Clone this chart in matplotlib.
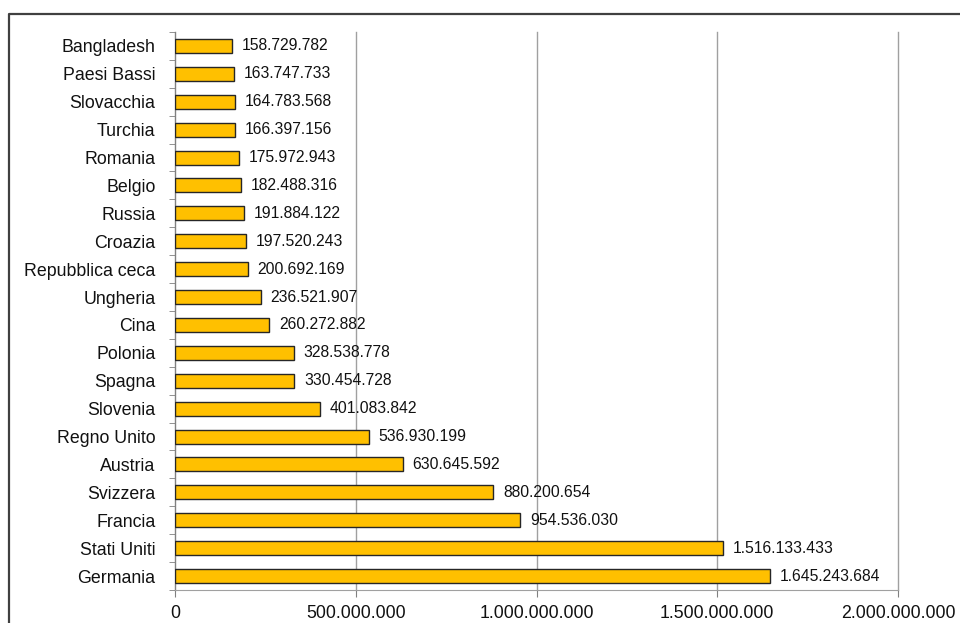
import matplotlib
matplotlib.use("Agg")
import matplotlib.pyplot as plt
from matplotlib.lines import Line2D
import numpy as np

plt.rcParams['font.family'] = ['Liberation Sans', 'DejaVu Sans']

countries = ["Bangladesh", "Paesi Bassi", "Slovacchia", "Turchia", "Romania",
             "Belgio", "Russia", "Croazia", "Repubblica ceca", "Ungheria",
             "Cina", "Polonia", "Spagna", "Slovenia", "Regno Unito",
             "Austria", "Svizzera", "Francia", "Stati Uniti", "Germania"]
values = [158729782, 163747733, 164783568, 166397156, 175972943,
          182488316, 191884122, 197520243, 200692169, 236521907,
          260272882, 328538778, 330454728, 401083842, 536930199,
          630645592, 880200654, 954536030, 1516133433, 1645243684]
xticks = [0, 500000000, 1000000000, 1500000000, 2000000000]

def fmt(v):
    return f"{v:,}".replace(",", ".")

fig = plt.figure(figsize=(9.6, 6.23), dpi=100)
ax = fig.add_axes([175/960, 1 - 590/623, (898-175)/960, (590-32)/623])

y = np.arange(len(countries))
ax.barh(y, values, height=0.5, color="#FFC000", edgecolor="#262626", linewidth=1.0, zorder=3)
for yi, v in zip(y, values):
    ax.annotate(fmt(v), (v, yi), xytext=(7, 0), textcoords="offset points",
                va="center", ha="left", fontsize=11.3, color="#111111")

ax.set_ylim(len(countries) - 0.5, -0.5)
ax.set_xlim(0, 2000000000)
ax.set_yticks(y)
ax.set_yticklabels(countries, fontsize=12.8, color="#111111")
ax.set_yticks(np.arange(-0.5, len(countries), 1.0), minor=True)
ax.tick_params(axis="y", which="major", length=0, pad=14)
ax.tick_params(axis="y", which="minor", length=4, color="#808080", direction="out")
ax.set_xticks(xticks)
ax.set_xticklabels([fmt(t) for t in xticks], fontsize=12.8, color="#111111")
ax.tick_params(axis="x", which="major", length=5, color="#808080", pad=6)

ax.grid(axis="x", color="#a0a0a0", linewidth=1.0, zorder=0)
for gl in ax.get_xgridlines():
    gl.set_clip_on(False)
ax.set_axisbelow(True)
for s in ["top", "right"]:
    ax.spines[s].set_visible(False)
ax.spines["left"].set_color("#808080")
ax.spines["bottom"].set_color("#a0a0a0")

# outer frame of the cropped chart
fig.add_artist(Line2D([9/960, 9/960, 1.0], [0.0, 1 - 14/623, 1 - 14/623],
                      transform=fig.transFigure, color="#404040", linewidth=1.6))

fig.savefig("out.png", dpi=100)
